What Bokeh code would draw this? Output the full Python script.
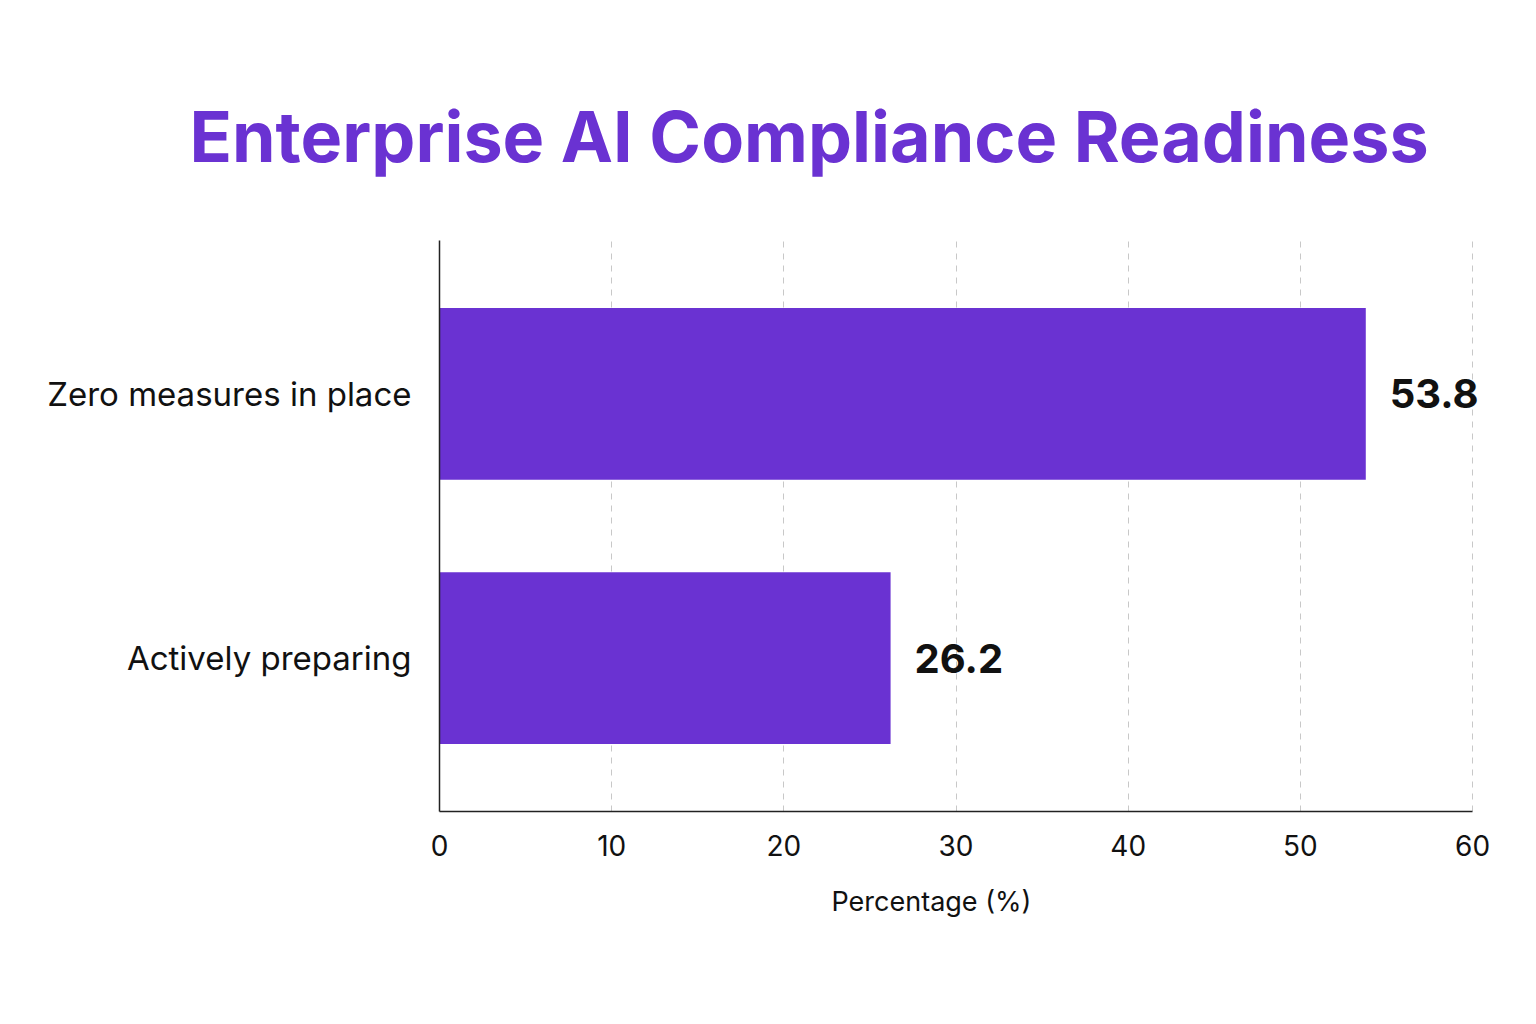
from bokeh.plotting import figure
from bokeh.models import ColumnDataSource, LabelSet, Title, FactorRange
from bokeh.core.properties import value
from bokeh.embed import file_html
from bokeh.resources import INLINE

# data
categories = ["Actively preparing", "Zero measures in place"]
values = [26.2, 53.8]
value_labels = ["26.2", "53.8"]
x_ticks = [0, 10, 20, 30, 40, 50, 60]

PURPLE = "#6A32D2"
FONT = "Inter"

source = ColumnDataSource(data=dict(cat=categories, val=values, lbl=value_labels))

# x range runs a bit past 60 so the "53.8" label is not clipped; axis stops at 60
p = figure(y_range=FactorRange(*categories, range_padding=0.08), x_range=(0, 62.67),
           width=1530, height=1000, output_backend="svg", toolbar_location=None,
           min_border_left=439, min_border_right=12, min_border_top=240, min_border_bottom=189)

p.hbar(y="cat", right="val", left=0, height=0.65, source=source,
       fill_color=PURPLE, line_color=None)

labels = LabelSet(x="val", y="cat", text="lbl", source=source, x_offset=24,
                  text_align="left", text_baseline="middle",
                  text_font=value(FONT), text_font_size="40px", text_font_style="bold",
                  text_color="#111111")
p.add_layout(labels)

title = Title(text="Enterprise AI Compliance Readiness", align="left", offset=-250,
              text_font=FONT, text_font_size="70px", text_font_style="bold",
              text_color=PURPLE, standoff=124)
p.add_layout(title, "above")

# x axis title, placed a little left of the frame centre as in the reference
xlabel = Title(text="Percentage (%)", align="left", offset=392,
               text_font=FONT, text_font_size="27px", text_font_style="normal",
               text_color="#111111", standoff=48)
p.add_layout(xlabel, "below")

p.outline_line_color = None
p.background_fill_color = "white"
p.border_fill_color = "white"

p.xaxis.ticker = x_ticks
p.xaxis.bounds = (0, 60)
p.xaxis.major_label_text_font = FONT
p.xaxis.major_label_text_font_size = "28px"
p.xaxis.major_label_text_color = "#111111"
p.xaxis.major_label_standoff = 17

p.yaxis.major_label_text_font = FONT
p.yaxis.major_label_text_font_size = "33px"
p.yaxis.major_label_text_color = "#111111"
p.yaxis.major_label_standoff = 22

for ax in (p.xaxis, p.yaxis):
    ax.axis_line_color = "#222222"
    ax.axis_line_width = 1.5
    ax.major_tick_line_color = None
    ax.minor_tick_line_color = None

p.ygrid.grid_line_color = None
p.xgrid.grid_line_color = "#c8c8c8"
p.xgrid.grid_line_dash = "6 6"
p.xgrid.grid_line_width = 1

open("out.html", "w").write(file_html(p, INLINE))
